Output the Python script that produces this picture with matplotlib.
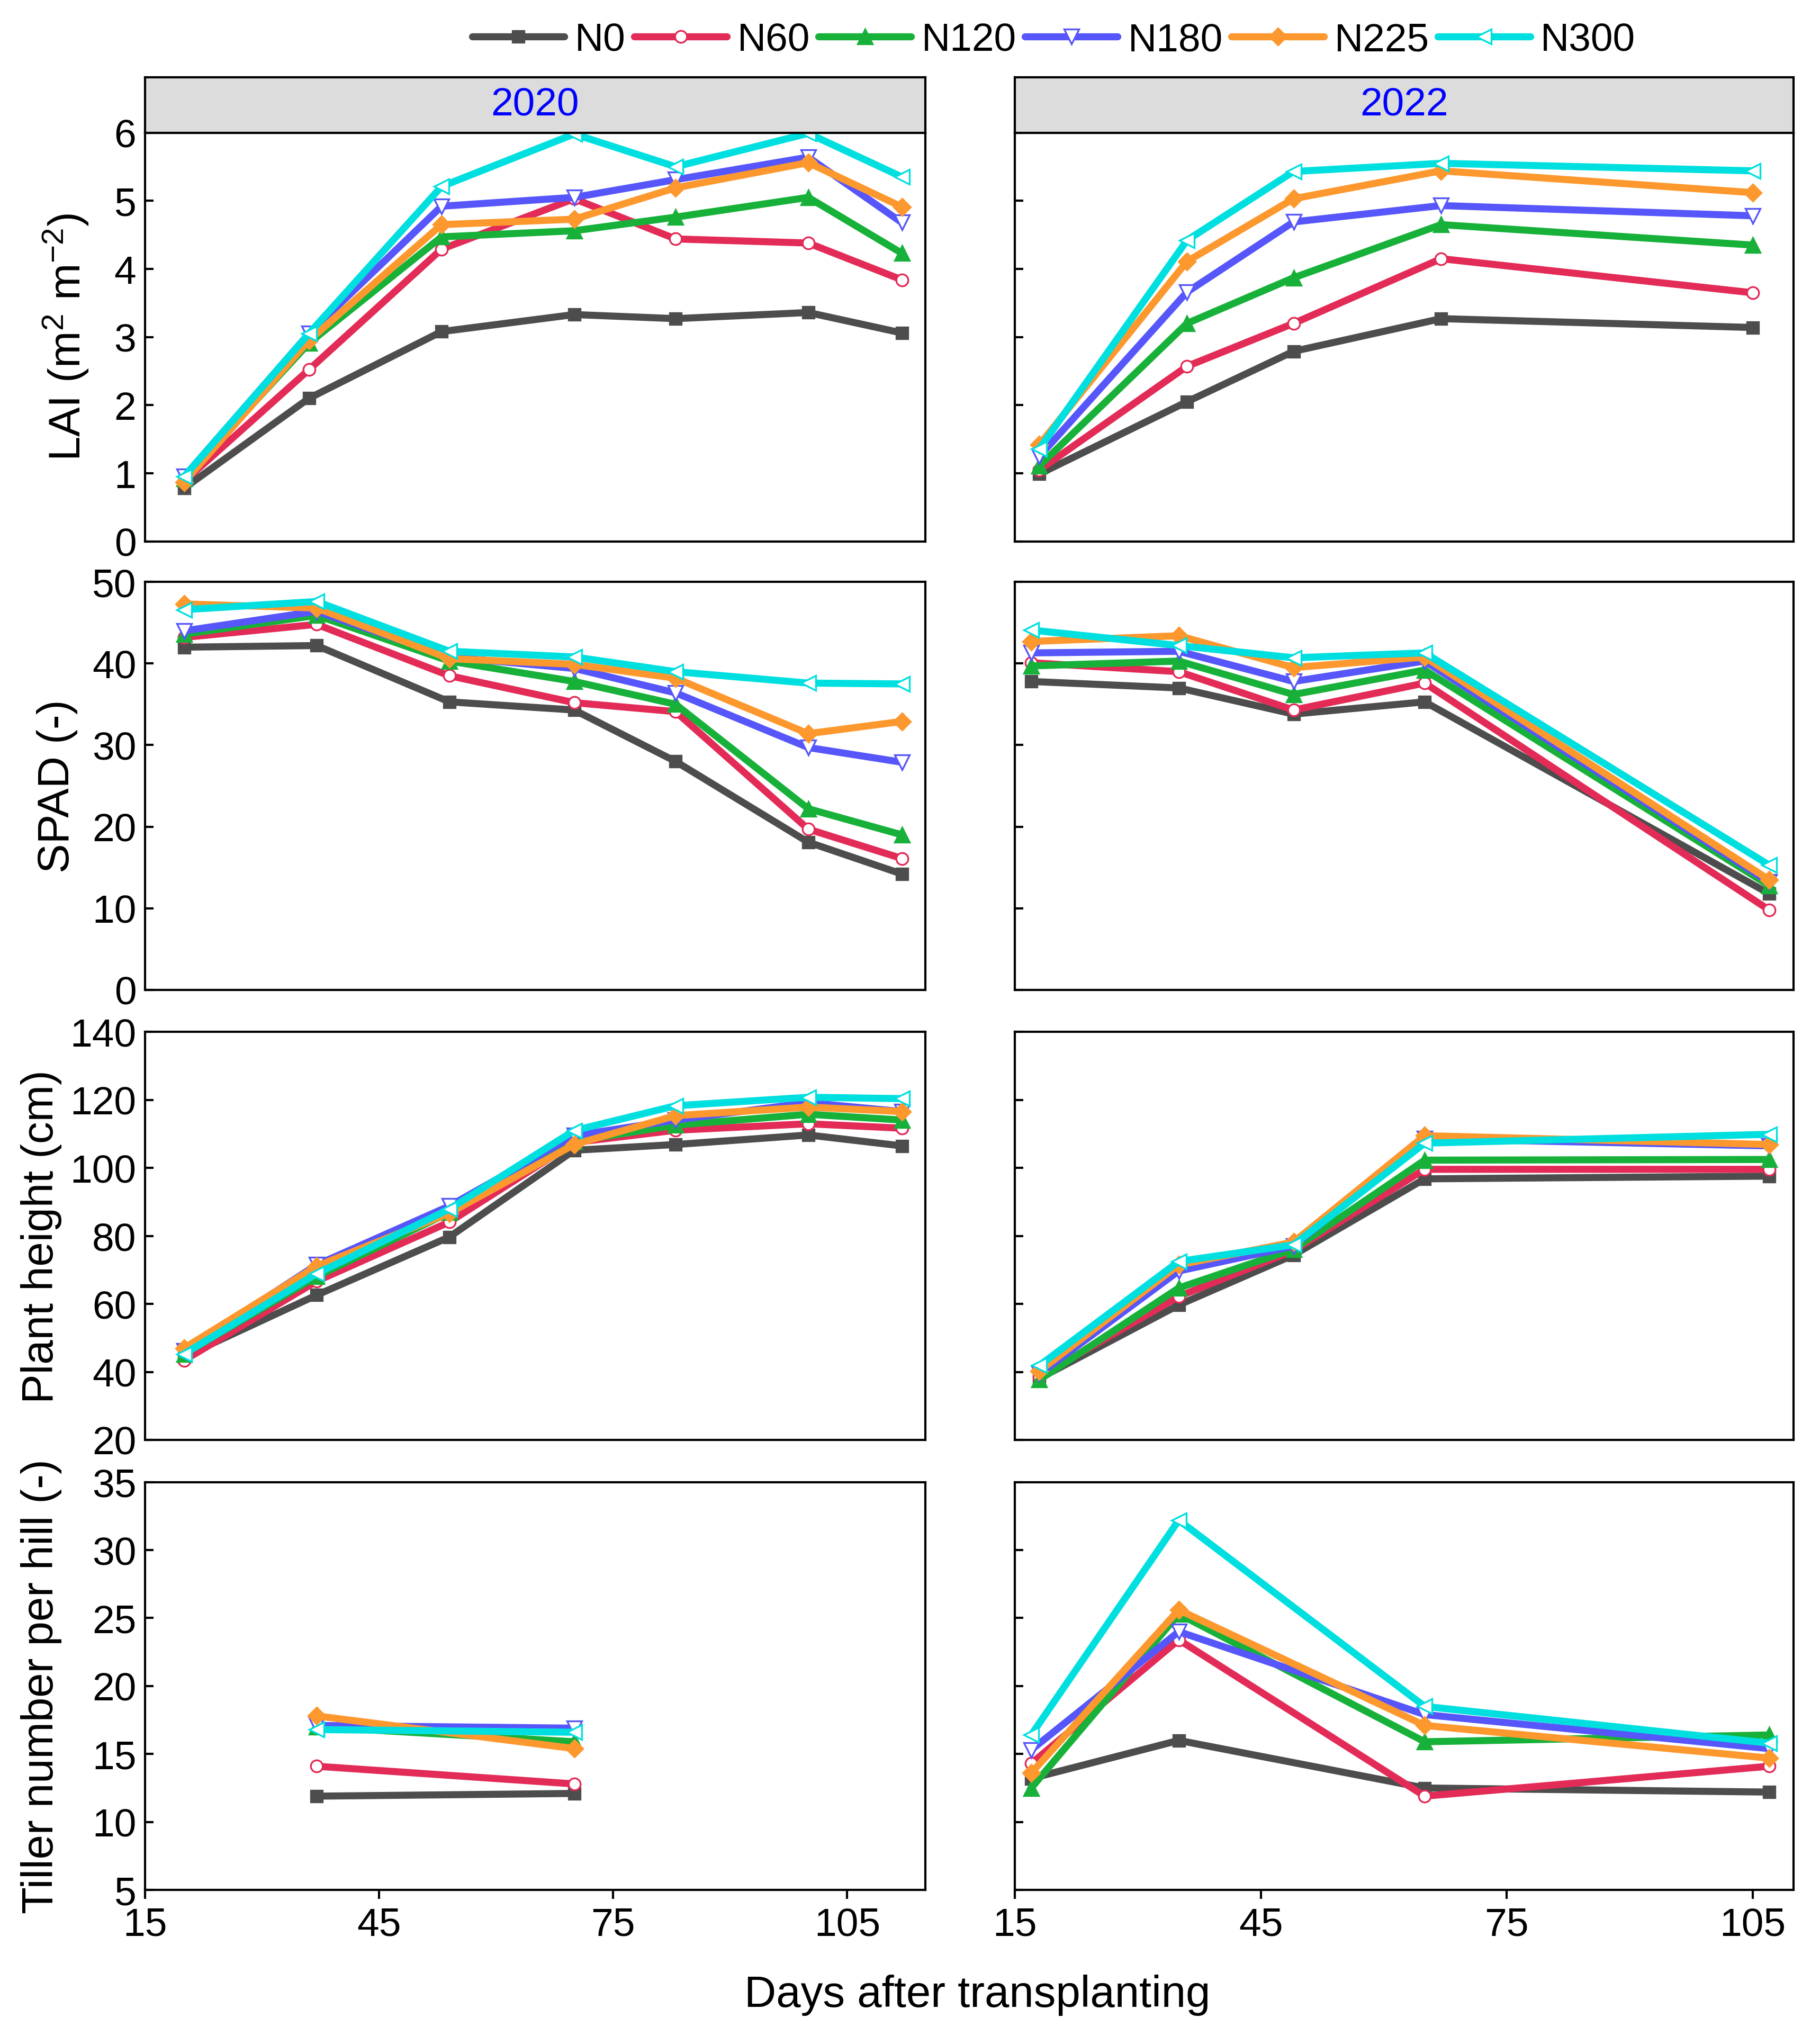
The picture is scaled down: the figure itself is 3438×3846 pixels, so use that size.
import matplotlib
matplotlib.use("Agg")
import matplotlib.pyplot as plt
from matplotlib.lines import Line2D

plt.rcParams['font.family'] = ['Liberation Sans', 'DejaVu Sans']
plt.rcParams['mathtext.fontset'] = 'custom'
plt.rcParams['mathtext.rm'] = 'Liberation Sans'
plt.rcParams['mathtext.it'] = 'Liberation Sans:italic'
plt.rcParams['mathtext.default'] = 'regular'

treatments = ["N0", "N60", "N120", "N180", "N225", "N300"]
colors = ["#4d4d4d", "#e32b57", "#17b13a", "#5656fa", "#fd982e", "#00dfe0"]
markers = ["s", "o", "^", "v", "D", "<"]
open_marker = [False, True, False, True, False, True]

# days after transplanting for each panel
dap_lai_2020 = [20, 36, 53, 70, 83, 100, 112]
dap_spad_2020 = [20, 37, 54, 70, 83, 100, 112]
dap_ph_2020 = [20, 37, 54, 70, 83, 100, 112]
dap_till_2020 = [37, 70]
dap_lai_2022 = [18, 36, 49, 67, 105]
dap_spad_2022 = [17, 35, 49, 65, 107]
dap_ph_2022 = [18, 35, 49, 65, 107]
dap_till_2022 = [17, 35, 65, 107]

# rows: N0, N60, N120, N180, N225, N300
lai_2020 = [
    [0.78, 2.10, 3.08, 3.33, 3.27, 3.36, 3.06],
    [0.88, 2.52, 4.29, 5.03, 4.44, 4.38, 3.84],
    [0.92, 2.91, 4.47, 4.56, 4.76, 5.05, 4.23],
    [0.95, 3.05, 4.92, 5.05, 5.31, 5.64, 4.68],
    [0.87, 2.95, 4.65, 4.73, 5.19, 5.56, 4.91],
    [0.95, 3.05, 5.21, 5.98, 5.50, 5.99, 5.35],
]
lai_2022 = [
    [0.99, 2.05, 2.79, 3.27, 3.14],
    [1.05, 2.57, 3.20, 4.15, 3.65],
    [1.11, 3.20, 3.87, 4.65, 4.35],
    [1.25, 3.66, 4.69, 4.93, 4.78],
    [1.42, 4.11, 5.03, 5.44, 5.12],
    [1.36, 4.42, 5.43, 5.55, 5.44],
]
spad_2020 = [
    [42.0, 42.2, 35.3, 34.3, 28.0, 18.1, 14.2],
    [43.2, 44.8, 38.5, 35.2, 34.1, 19.7, 16.1],
    [43.6, 45.9, 40.3, 37.8, 35.0, 22.2, 19.0],
    [44.0, 46.4, 40.8, 39.4, 36.4, 29.7, 27.9],
    [47.3, 46.8, 40.6, 39.9, 38.2, 31.4, 32.9],
    [46.6, 47.6, 41.5, 40.8, 39.0, 37.6, 37.5],
]
spad_2022 = [
    [37.8, 37.0, 33.8, 35.3, 11.8],
    [40.1, 39.0, 34.3, 37.6, 9.8],
    [39.7, 40.3, 36.2, 39.2, 12.8],
    [41.3, 41.5, 37.8, 40.3, 13.2],
    [42.7, 43.4, 39.5, 40.8, 13.5],
    [44.1, 42.2, 40.7, 41.3, 15.3],
]
ph_2020 = [
    [44.5, 62.6, 79.7, 105.2, 106.9, 109.7, 106.5],
    [43.4, 66.7, 84.1, 107.5, 111.1, 113.0, 111.7],
    [45.3, 68.1, 86.9, 107.8, 112.6, 115.8, 114.1],
    [46.2, 71.5, 88.8, 109.5, 114.1, 119.2, 116.6],
    [47.0, 71.1, 86.7, 106.9, 115.4, 117.9, 116.6],
    [45.3, 68.9, 87.9, 111.0, 118.3, 120.8, 120.4],
]
ph_2022 = [
    [38.1, 59.7, 74.4, 96.8, 97.6],
    [38.6, 62.2, 75.7, 99.6, 99.6],
    [37.7, 64.7, 76.1, 102.3, 102.5],
    [39.4, 69.7, 77.0, 108.6, 106.5],
    [40.3, 71.5, 78.2, 109.5, 106.9],
    [41.9, 72.5, 77.4, 107.3, 109.9],
]
till_2020 = [
    [11.9, 12.1],
    [14.1, 12.8],
    [17.0, 15.9],
    [17.1, 16.9],
    [17.8, 15.4],
    [16.8, 16.6],
]
till_2022 = [
    [13.2, 16.0, 12.5, 12.2],
    [14.3, 23.4, 11.9, 14.1],
    [12.5, 25.3, 15.9, 16.4],
    [15.3, 24.0, 17.9, 15.4],
    [13.6, 25.6, 17.1, 14.7],
    [16.4, 32.2, 18.5, 15.8],
]

years = ["2020", "2022"]
ylabels = ["LAI (m$^{2}$ m$^{-2}$)", "SPAD (-)", "Plant height (cm)", "Tiller number per hill (-)"]
ylabel_x = [-0.083, -0.098, -0.118, -0.118]
ylims = [(0, 6), (0, 50), (20, 140), (5, 35)]
yticks = [range(0, 7, 1), range(0, 51, 10), range(20, 141, 20), range(5, 36, 5)]
panels = [
    [(dap_lai_2020, lai_2020), (dap_lai_2022, lai_2022)],
    [(dap_spad_2020, spad_2020), (dap_spad_2022, spad_2022)],
    [(dap_ph_2020, ph_2020), (dap_ph_2022, ph_2022)],
    [(dap_till_2020, till_2020), (dap_till_2022, till_2022)],
]
xlims = [(15, 115), (15, 110)]

fig = plt.figure(figsize=(11.46, 12.8233), dpi=300)

col_x = [(0.0797, 0.4287), (0.5576, 0.4279)]
row_y = [(0.7339, 0.2007), (0.5137, 0.2003), (0.2927, 0.2003), (0.0717, 0.2003)]


def marker_size(m):
    return 5.4 if m in ("s", "o", "D") else 6.6


def draw_series(ax, x, rows):
    for i, y in enumerate(rows):
        face = "white" if open_marker[i] else colors[i]
        ax.plot(x, y, color=colors[i], lw=3.2, marker=markers[i], ms=marker_size(markers[i]),
                mfc=face, mec=colors[i], mew=0.8, solid_capstyle="round")


for r in range(4):
    for c in range(2):
        x0, w = col_x[c]
        y0, h = row_y[r]
        ax = fig.add_axes([x0, y0, w, h])
        dap, vals = panels[r][c]
        draw_series(ax, dap, vals)
        ax.set_xlim(*xlims[c])
        ax.set_ylim(*ylims[r])
        ax.set_yticks(list(yticks[r]))
        ax.set_xticks([15, 45, 75, 105])
        for sp in ax.spines.values():
            sp.set_linewidth(1.0)
        ax.tick_params(axis="y", direction="in", length=3.8, width=1.0, labelsize=18, pad=4)
        ax.tick_params(axis="x", direction="out", length=4, width=1.0, labelsize=18, pad=3.5)
        if c == 1:
            ax.tick_params(axis="y", labelleft=False)
        else:
            ax.set_ylabel(ylabels[r], fontsize=20)
            ax.yaxis.label.set_verticalalignment("baseline")
            ax.yaxis.set_label_coords(ylabel_x[r], 0.5)
        if r < 3:
            ax.tick_params(axis="x", bottom=False, labelbottom=False)
        if r == 0:
            strip = fig.add_axes([x0, y0 + h, w, 0.0273])
            strip.set_facecolor("#dcdcdc")
            strip.set_xticks([])
            strip.set_yticks([])
            for sp in strip.spines.values():
                sp.set_linewidth(1.0)
            strip.text(0.5, 0.5, years[c], color="#0000ff", fontsize=18,
                       ha="center", va="center", transform=strip.transAxes)

handles = []
for i, name in enumerate(treatments):
    face = "white" if open_marker[i] else colors[i]
    handles.append(Line2D([], [], color=colors[i], lw=3.2, marker=markers[i],
                          ms=marker_size(markers[i]), mfc=face, mec=colors[i], mew=0.8,
                          solid_capstyle="round"))
fig.legend(handles, treatments, loc="center", bbox_to_anchor=(0.579, 0.980), ncol=6,
           frameon=False, fontsize=18, handlelength=2.33, handletextpad=0.26,
           columnspacing=0.22, borderaxespad=0)

fig.text(0.537, 0.0203, "Days after transplanting", fontsize=20, ha="center", va="center")

fig.savefig("out.png", dpi=300)
